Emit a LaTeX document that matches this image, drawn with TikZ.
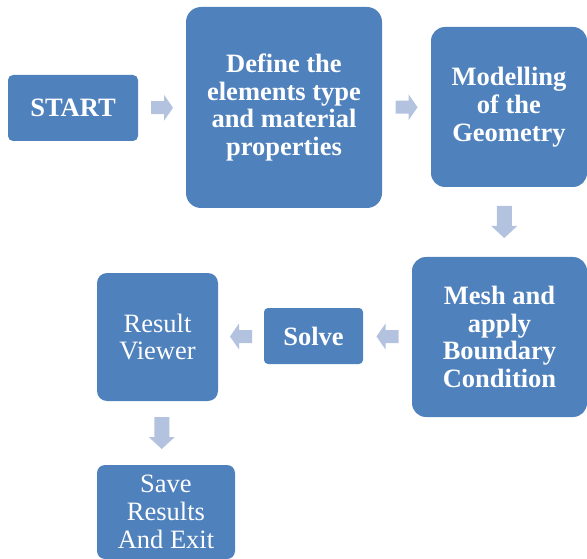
\documentclass[tikz,border=0pt]{standalone}
\usepackage{fontspec}
\setmainfont{Liberation Serif}
\usetikzlibrary{calc}
\definecolor{boxblue}{HTML}{4F81BD}
\definecolor{arrblue}{HTML}{B3C3DF}
\tikzset{
  box/.style={fill=boxblue, text=white, align=center, inner sep=0pt,
    font=\fontsize{26.5}{27.8}\selectfont\bfseries},
  plainbox/.style={box, font=\fontsize{26.5}{27.8}\selectfont},
  harr/.pic={\fill[arrblue] (-11,-6.5) -- (2,-6.5) -- (2,-13) -- (11,0) -- (2,13) -- (2,6.5) -- (-11,6.5) -- cycle;},
  varr/.pic={\fill[arrblue] (-7.5,-16) -- (-7.5,4) -- (-13,4) -- (0,16) -- (13,4) -- (7.5,4) -- (7.5,-16) -- cycle;}
}
\begin{document}
\begin{tikzpicture}[x=1pt,y=-1pt]
  \useasboundingbox (0,0) rectangle (587,559);
  % boxes
  \node[box, minimum width=130pt, minimum height=66pt, rounded corners=5pt] (start) at (73,108) {START};
  \node[box, minimum width=196pt, minimum height=201pt, rounded corners=15pt] (define) at (284,107.5) {Define the\\elements type\\and material\\properties};
  \node[box, minimum width=156pt, minimum height=160pt, rounded corners=14pt] (model) at (509,107) {Modelling\\of the\\Geometry};
  \node[box, minimum width=175pt, minimum height=160pt, rounded corners=14pt] (mesh) at (499.5,337) {Mesh and\\apply\\Boundary\\Condition};
  \node[box, minimum width=99pt, minimum height=56pt, rounded corners=4pt] (solve) at (313.5,336) {Solve};
  \node[plainbox, minimum width=121pt, minimum height=128pt, rounded corners=10pt] (result) at (157.5,337) {Result\\Viewer};
  \node[plainbox, minimum width=138pt, minimum height=94pt, rounded corners=8pt] (save) at (166,512) {Save\\Results\\And Exit};
  % block arrows
  \pic at ($(start.east)!0.5!(define.west)$) {harr};
  \pic at ($(define.east)!0.5!(model.west)$) {harr};
  \pic at ($(model.south)!0.5!(mesh.north)$) {varr};
  \pic[rotate=180] at ($(mesh.west)!0.5!(solve.east)$) {harr};
  \pic[rotate=180] at ($(solve.west)!0.5!(result.east)$) {harr};
  \pic at ($(result.south)!0.5!(save.north)$) {varr};
\end{tikzpicture}
\end{document}
